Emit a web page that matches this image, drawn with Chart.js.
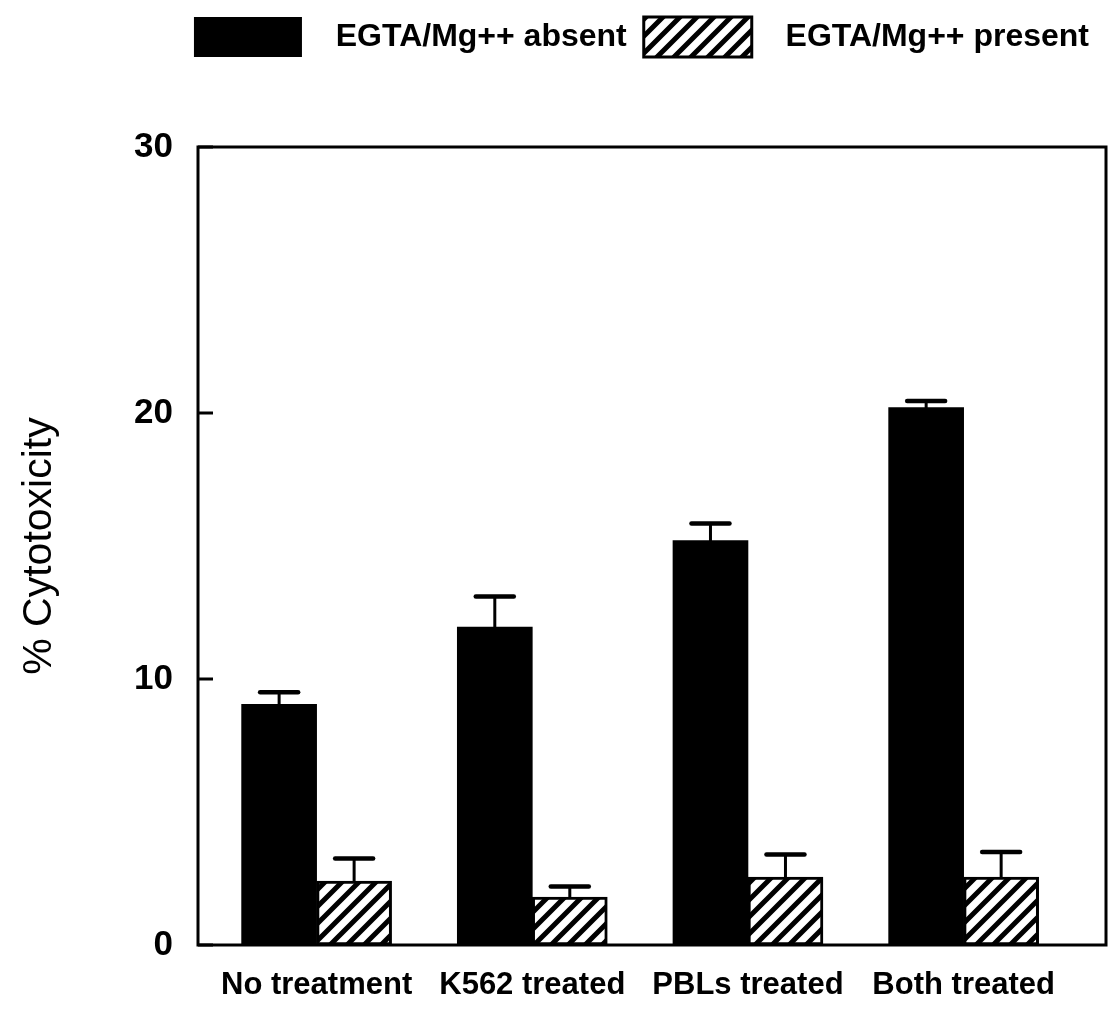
<!DOCTYPE html>
<html>
<head>
<meta charset="utf-8">
<title>% Cytotoxicity</title>
<script src="https://cdn.jsdelivr.net/npm/chart.js@4.4.1/dist/chart.umd.min.js"></script>
<style>
  html, body { margin: 0; padding: 0; background: #fff; }
  #wrap { width: 1108px; height: 1014px; }
</style>
</head>
<body>
<div id="wrap"><canvas id="chart"></canvas></div>
<script>
// Data
const categories = ['No treatment', 'K562 treated', 'PBLs treated', 'Both treated'];
const seriesNames = ['EGTA/Mg++ absent', 'EGTA/Mg++ present'];
const absentValues = [9.05, 11.95, 15.2, 20.2];
const absentErrors = [0.45, 1.15, 0.65, 0.25];
const presentValues = [2.4, 1.8, 2.55, 2.55];
const presentErrors = [0.85, 0.4, 0.85, 0.95];
const yTicks = [0, 10, 20, 30];

const FONT = '"Liberation Sans", Arial, Helvetica, sans-serif';

// Diagonal hatch fill for the second series
function makeHatch() {
    const size = 17;
    const c = document.createElement('canvas');
    c.width = size;
    c.height = size;
    const g = c.getContext('2d');
    g.fillStyle = '#fff';
    g.fillRect(0, 0, size, size);
    g.strokeStyle = '#000';
    g.lineWidth = 5;
    g.beginPath();
    g.moveTo(0, size); g.lineTo(size, 0);
    g.moveTo(-4, 4); g.lineTo(4, -4);
    g.moveTo(size - 4, size + 4); g.lineTo(size + 4, size - 4);
    g.stroke();
    return g.createPattern(c, 'repeat');
}

// Force the legend band to a fixed height
const legendHeight = {
    id: 'legendHeight',
    beforeInit(chart) {
        const fit = chart.legend.fit;
        chart.legend.fit = function () {
            fit.call(this);
            this.height = 147;
        };
    }
};

// Box round the plot plus the short inward ticks on the y axis
const frame = {
    id: 'frame',
    afterDatasetsDraw(chart) {
        const { ctx, chartArea: a } = chart;
        const y = chart.scales.y;
        ctx.save();
        ctx.strokeStyle = '#000';
        ctx.lineWidth = 3;
        ctx.strokeRect(a.left, a.top, a.right - a.left, a.bottom - a.top);
        yTicks.forEach(v => {
            const py = y.getPixelForValue(v);
            ctx.beginPath();
            ctx.moveTo(a.left, py);
            ctx.lineTo(a.left + 15, py);
            ctx.stroke();
        });
        ctx.restore();
    }
};

// One-sided (upward) error bars
const errorBars = {
    id: 'errorBars',
    afterDatasetsDraw(chart) {
        const ctx = chart.ctx;
        const y = chart.scales.y;
        const errs = [absentErrors, presentErrors];
        const vals = [absentValues, presentValues];
        ctx.save();
        ctx.strokeStyle = '#000';
        ctx.lineCap = 'round';
        chart.data.datasets.forEach((ds, i) => {
            const meta = chart.getDatasetMeta(i);
            meta.data.forEach((bar, j) => {
                const top = y.getPixelForValue(vals[i][j] + errs[i][j]);
                ctx.lineWidth = 3;
                ctx.beginPath();
                ctx.moveTo(bar.x, bar.y);
                ctx.lineTo(bar.x, top);
                ctx.stroke();
                ctx.lineWidth = 4.5;
                ctx.beginPath();
                ctx.moveTo(bar.x - 19, top);
                ctx.lineTo(bar.x + 19, top);
                ctx.stroke();
            });
        });
        ctx.restore();
    }
};

const ctx = document.getElementById('chart').getContext('2d');

new Chart(ctx, {
    type: 'bar',
    data: {
        datasets: [
            {
                label: seriesNames[0],
                data: absentValues.map((v, i) => ({ x: i, y: v })),
                backgroundColor: '#000',
                borderColor: '#000',
                borderWidth: 0
            },
            {
                label: seriesNames[1],
                data: presentValues.map((v, i) => ({ x: i, y: v })),
                backgroundColor: makeHatch(),
                borderColor: '#000',
                borderWidth: 3,
                borderSkipped: false
            }
        ]
    },
    options: {
        responsive: true,
        maintainAspectRatio: false,
        animation: false,
        barThickness: 75,
        layout: { padding: { top: 0, right: 2, left: 0, bottom: 0 } },
        plugins: {
            legend: {
                position: 'top',
                align: 'end',
                labels: {
                    boxWidth: 108,
                    boxHeight: 40,
                    padding: 17,
                    color: '#000',
                    font: { family: FONT, size: 32, weight: 'bold' },
                    // a little extra room between swatch and text
                    generateLabels: chart =>
                        Chart.defaults.plugins.legend.labels.generateLabels(chart)
                            .map(item => ({ ...item, text: '  ' + item.text }))
                }
            },
            tooltip: { enabled: false }
        },
        scales: {
            x: {
                type: 'linear',
                offset: false,
                min: -0.55,
                max: 3.66,
                grid: { display: false, drawTicks: false },
                border: { display: false },
                afterBuildTicks: scale => {
                    scale.ticks = categories.map((c, i) => ({ value: i }));
                },
                afterFit: scale => { scale.height = 69; },
                ticks: {
                    padding: 22,
                    maxRotation: 0,
                    autoSkip: false,
                    color: '#000',
                    font: { family: FONT, size: 31, weight: 'bold' },
                    callback: value => categories[value]
                }
            },
            y: {
                min: 0,
                max: 30,
                grid: { display: false, drawTicks: false },
                border: { display: false },
                afterBuildTicks: scale => {
                    scale.ticks = yTicks.map(v => ({ value: v }));
                },
                afterFit: scale => { scale.width = 198; },
                ticks: {
                    padding: 25,
                    color: '#000',
                    font: { family: FONT, size: 35, weight: 'bold' }
                },
                title: {
                    display: true,
                    text: '% Cytotoxicity',
                    color: '#000',
                    padding: { top: 15, bottom: 0 },
                    font: { family: FONT, size: 41, weight: 'normal' }
                }
            }
        }
    },
    plugins: [legendHeight, frame, errorBars]
});
</script>
</body>
</html>
